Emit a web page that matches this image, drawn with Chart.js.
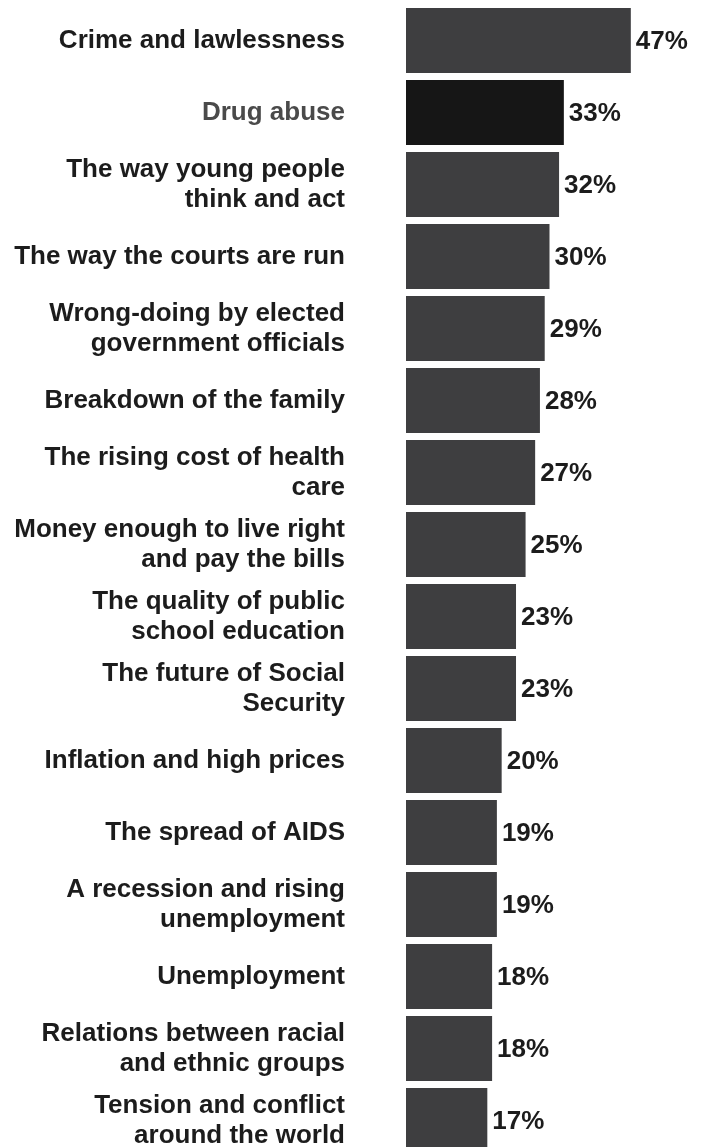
<!DOCTYPE html>
<html>
<head>
<meta charset="utf-8">
<script src="https://cdn.jsdelivr.net/npm/chart.js@4.4.1/dist/chart.umd.min.js"></script>
<style>
  html, body { margin: 0; padding: 0; background: #ffffff; overflow: hidden; }
  #wrap { width: 705px; height: 1147px; overflow: hidden; }
  canvas { display: block; }
</style>
</head>
<body>
<div id="wrap"><canvas id="c" width="705" height="1160"></canvas></div>
<script>
const categories = [
  "Crime and lawlessness",
  "Drug abuse",
  ["The way young people", "think and act"],
  "The way the courts are run",
  ["Wrong-doing by elected", "government officials"],
  "Breakdown of the family",
  ["The rising cost of health", "care"],
  ["Money enough to live right", "and pay the bills"],
  ["The quality of public", "school education"],
  ["The future of Social", "Security"],
  "Inflation and high prices",
  "The spread of AIDS",
  ["A recession and rising", "unemployment"],
  "Unemployment",
  ["Relations between racial", "and ethnic groups"],
  ["Tension and conflict", "around the world"]
];
const values = [47, 33, 32, 30, 29, 28, 27, 25, 23, 23, 20, 19, 19, 18, 18, 17];
const highlightIndex = 1;
const valueSuffix = "%";

const FONT_FAMILY = "'Liberation Sans', Arial, Helvetica, sans-serif";
const FONT = "bold 26px " + FONT_FAMILY;
const BAR_COLOR = "#3e3e40";
const HIGHLIGHT_COLOR = "#161616";
const TEXT_COLOR = "#1c1c1c";
const HIGHLIGHT_TEXT = "#4a4a4a";
const LINE_HEIGHT = 30;

const textLabels = {
  id: "textLabels",
  afterDatasetsDraw(chart) {
    const ctx = chart.ctx;
    const meta = chart.getDatasetMeta(0);
    const yScale = chart.scales.y;
    const labelRight = chart.chartArea.left - 61;
    ctx.save();
    ctx.font = FONT;
    ctx.textBaseline = "middle";
    // category labels
    ctx.textAlign = "right";
    categories.forEach((lab, i) => {
      const lines = Array.isArray(lab) ? lab : [lab];
      const cy = yScale.getPixelForValue(i);
      const y0 = cy - (lines.length - 1) * LINE_HEIGHT / 2;
      ctx.fillStyle = i === highlightIndex ? HIGHLIGHT_TEXT : TEXT_COLOR;
      lines.forEach((ln, k) => ctx.fillText(ln, labelRight, y0 + k * LINE_HEIGHT));
    });
    // value labels
    ctx.textAlign = "left";
    ctx.fillStyle = TEXT_COLOR;
    meta.data.forEach((bar, i) => {
      ctx.fillText(values[i] + valueSuffix, bar.x + 5, bar.y + 1);
    });
    ctx.restore();
  }
};

new Chart(document.getElementById("c"), {
  type: "bar",
  data: {
    labels: categories,
    datasets: [{
      data: values,
      backgroundColor: values.map((v, i) => i === highlightIndex ? HIGHLIGHT_COLOR : BAR_COLOR),
      borderWidth: 0,
      barPercentage: 65 / 72,
      categoryPercentage: 1
    }]
  },
  options: {
    indexAxis: "y",
    responsive: false,
    animation: false,
    devicePixelRatio: 1,
    layout: { padding: { top: 4.5, bottom: 3.5, left: 406, right: 12 } },
    plugins: { legend: { display: false }, tooltip: { enabled: false } },
    scales: {
      x: { display: false, min: 0, max: 60 },
      y: { display: false, offset: true }
    }
  },
  plugins: [textLabels]
});
</script>
</body>
</html>
